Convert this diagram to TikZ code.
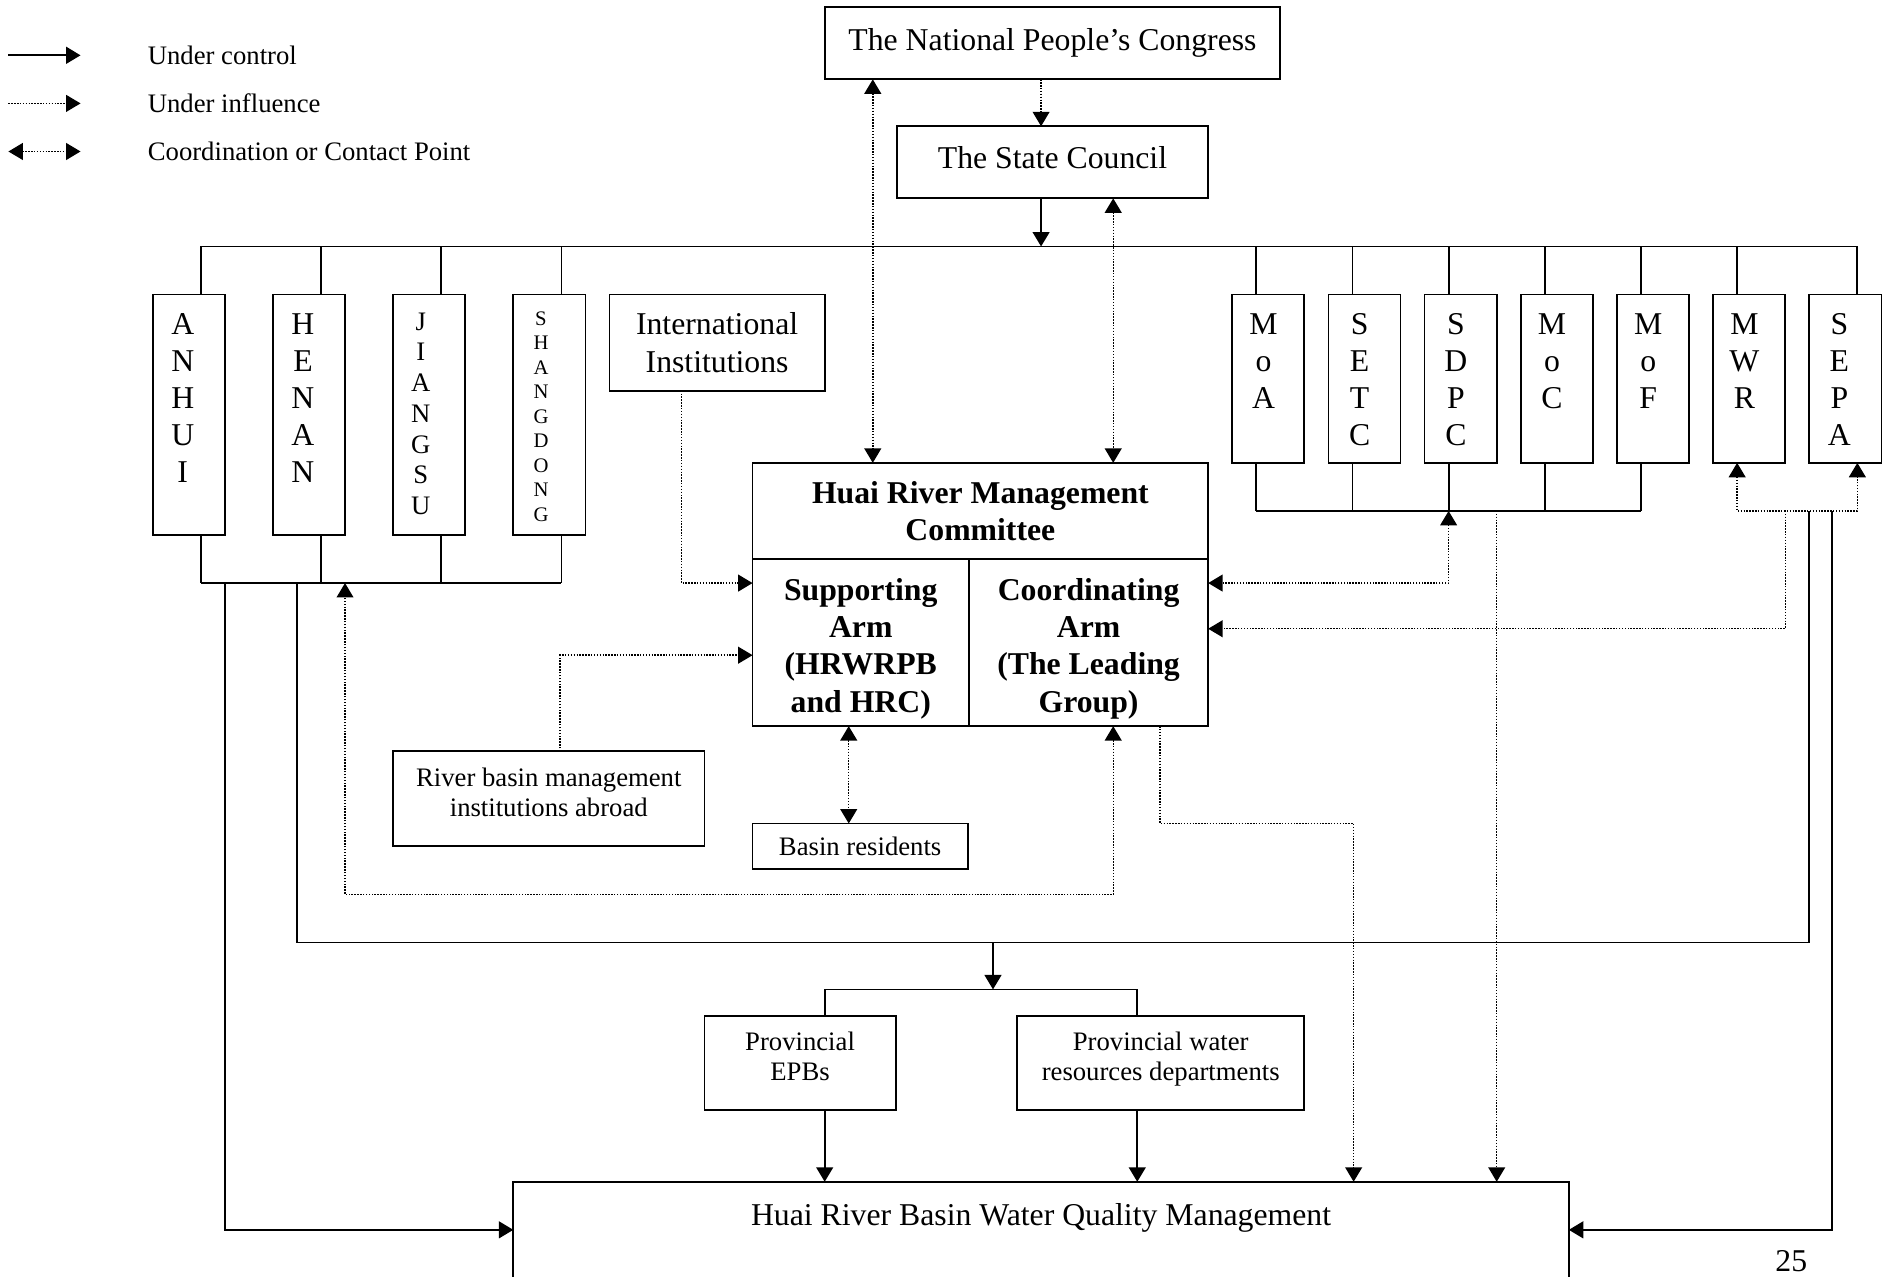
\documentclass[tikz,border=0pt]{standalone}
\usepackage{fontspec}
\setmainfont{Liberation Serif}
\usetikzlibrary{arrows.meta,calc}
\begin{document}
\begin{tikzpicture}[x=0.5pt,y=-0.5pt,
  every node/.style={inner sep=0pt, outer sep=0pt},
  box/.style={draw, line width=0.75pt, align=center},
  sz/.style 2 args={minimum width=#1*0.5pt, minimum height=#2*0.5pt},
  mainf/.style={font=\fontsize{13.2}{15.4}\selectfont},
  smallf/.style={font=\fontsize{11.1}{12.8}\selectfont},
  tinyf/.style={font=\fontsize{8.6}{10.2}\selectfont},
  boldf/.style={font=\fontsize{13.2}{15.5}\selectfont\bfseries},
  vtxt/.style={anchor=north, align=center},
  ctrl/.style={line width=0.75pt},
  infl/.style={line width=0.6pt, dash pattern=on 0.6pt off 0.6pt},
  tip/.style={-{Triangle[length=6pt,width=7pt]}},
  tips/.style={{Triangle[length=6pt,width=7pt]}-{Triangle[length=6pt,width=7pt]}},
]
\fill[white] (0,0) rectangle (1568,1062);
\useasboundingbox (0,0) rectangle (1568,1062);

% helper coordinates
\foreach \x in {866,726,926,167,267,367,467,1045,1125,1205,1285,1365,1445,1545,567,466,706,287,965,1126,1485,1245,187,247,1505,826,686,946,1524}
  \coordinate (X\x) at (\x,0);
\coordinate (BUS) at (0,205);
\coordinate (PBUS) at (0,485);
\coordinate (MBUS) at (0,425);
\coordinate (Y545) at (0,545);
\coordinate (Y744) at (0,744);
\coordinate (Y685) at (0,685);
\coordinate (Y523) at (0,523);
\coordinate (Y784) at (0,784);
\coordinate (Y823) at (0,823);
\coordinate (Y1023) at (0,1023);

% legend
\coordinate (L1a) at (7,46);  \coordinate (L1b) at (67,46);
\coordinate (L2a) at (7,86);  \coordinate (L2b) at (67,86);
\coordinate (L3a) at (7,126); \coordinate (L3b) at (67,126);
\draw[ctrl,tip] (L1a) -- (L1b);
\draw[infl,tip] (L2a) -- (L2b);
\draw[infl,tips] (L3a) -- (L3b);
\node[smallf,anchor=west] (lg1) at (123,46) {Under control};
\node[smallf,anchor=west] (lg2) at (123,86) {Under influence};
\node[smallf,anchor=west] (lg3) at (123,126) {Coordination or Contact Point};

% top boxes
\node[box,sz={379}{60},mainf] (npc) at (875.5,36) {The National People’s Congress};
\node[box,sz={259}{60},mainf,text depth=4pt] (sc) at (875.5,135) {The State Council};

% provinces
\node[box,sz={60}{200}] (anhui) at (157,345) {};
\node[box,sz={60}{200}] (henan) at (257,345) {};
\node[box,sz={60}{200}] (jiangsu) at (357,345) {};
\node[box,sz={60}{200}] (shandong) at (457,345) {};
\node[mainf,vtxt] (anhuiT) at ($(anhui.north)+(-5,16)$) {A\\N\\H\\U\\I};
\node[mainf,vtxt] (henanT) at ($(henan.north)+(-5,16)$) {H\\E\\N\\A\\N};
\node[smallf,vtxt] (jiangsuT) at ($(jiangsu.north)+(-7,15)$) {J\\I\\A\\N\\G\\S\\U};
\node[tinyf,vtxt] (shandongT) at ($(shandong.north)+(-7,14)$) {S\\H\\A\\N\\G\\D\\O\\N\\G};

% international institutions
\node[box,sz={179}{80},mainf] (intl) at (596.5,285) {International\\Institutions};

% ministries
\node[box,sz={60}{140}] (moa) at (1055,315) {};
\node[box,sz={60}{140}] (setc) at (1135,315) {};
\node[box,sz={60}{140}] (sdpc) at (1215,315) {};
\node[box,sz={60}{140}] (moc) at (1295,315) {};
\node[box,sz={60}{140}] (mof) at (1375,315) {};
\node[box,sz={60}{140}] (mwr) at (1455,315) {};
\node[box,sz={60}{140}] (sepa) at (1535,315) {};
\node[mainf,vtxt] (moaT) at ($(moa.north)+(-4,16)$) {M\\o\\A};
\node[mainf,vtxt] (setcT) at ($(setc.north)+(-4,16)$) {S\\E\\T\\C};
\node[mainf,vtxt] (sdpcT) at ($(sdpc.north)+(-4,16)$) {S\\D\\P\\C};
\node[mainf,vtxt] (mocT) at ($(moc.north)+(-4,16)$) {M\\o\\C};
\node[mainf,vtxt] (mofT) at ($(mof.north)+(-4,16)$) {M\\o\\F};
\node[mainf,vtxt] (mwrT) at ($(mwr.north)+(-4,16)$) {M\\W\\R};
\node[mainf,vtxt] (sepaT) at ($(sepa.north)+(-5,16)$) {S\\E\\P\\A};

% HRMC
\node[box,sz={379}{80},boldf] (hrmc) at (815.5,425) {Huai River Management\\Committee};
\node[box,sz={180}{139}] (sup) at (716,534.5) {};
\node[box,sz={199}{139}] (coord) at (905.5,534.5) {};
\node[boldf,align=center] (supT) at (716,539.5) {Supporting\\Arm\\(HRWRPB\\and HRC)};
\node[boldf,align=center] (coordT) at (905.5,539.5) {Coordinating\\Arm\\(The Leading\\Group)};

% lower boxes
\node[box,sz={259}{79},smallf,text depth=5.5pt] (abroad) at (456.5,664.5) {River basin management\\institutions abroad};
\node[box,sz={179}{38},smallf] (res) at (715.5,704) {Basin residents};
\node[box,sz={159}{78},smallf,text depth=5.5pt] (epb) at (665.5,884) {Provincial\\EPBs};
\node[box,sz={239}{78},smallf,text depth=5.5pt] (pwrd) at (965.5,884) {Provincial water\\resources departments};
\node[box,sz={878}{83}] (hrbwqm) at (866,1024.5) {};
\node[mainf] (hrbwqmT) at (866,1013) {Huai River Basin Water Quality Management};
\node[mainf] (pg) at (1490,1049) {25};

% connectors: top
\draw[infl,tip] (npc.south -| X866) -- (sc.north -| X866);
\draw[ctrl,tip] (sc.south -| X866) -- (X866 |- BUS);
\draw[ctrl] (X167 |- BUS) -- (X1545 |- BUS);
\draw[infl,tips] (npc.south -| X726) -- (hrmc.north -| X726);
\draw[infl,tips] (sc.south -| X926) -- (hrmc.north -| X926);

% stubs to provinces
\draw[ctrl] (anhui.north -| X167) -- (X167 |- BUS);
\draw[ctrl] (henan.north -| X267) -- (X267 |- BUS);
\draw[ctrl] (jiangsu.north -| X367) -- (X367 |- BUS);
\draw[ctrl] (shandong.north -| X467) -- (X467 |- BUS);
\draw[ctrl] (anhui.south -| X167) -- (X167 |- PBUS);
\draw[ctrl] (henan.south -| X267) -- (X267 |- PBUS);
\draw[ctrl] (jiangsu.south -| X367) -- (X367 |- PBUS);
\draw[ctrl] (shandong.south -| X467) -- (X467 |- PBUS);
\draw[ctrl] (X167 |- PBUS) -- (X467 |- PBUS);

% stubs to ministries
\draw[ctrl] (moa.north -| X1045) -- (X1045 |- BUS);
\draw[ctrl] (setc.north -| X1125) -- (X1125 |- BUS);
\draw[ctrl] (sdpc.north -| X1205) -- (X1205 |- BUS);
\draw[ctrl] (moc.north -| X1285) -- (X1285 |- BUS);
\draw[ctrl] (mof.north -| X1365) -- (X1365 |- BUS);
\draw[ctrl] (mwr.north -| X1445) -- (X1445 |- BUS);
\draw[ctrl] (sepa.north -| X1545) -- (X1545 |- BUS);
\draw[ctrl] (moa.south -| X1045) -- (X1045 |- MBUS);
\draw[ctrl] (setc.south -| X1125) -- (X1125 |- MBUS);
\draw[ctrl] (sdpc.south -| X1205) -- (X1205 |- MBUS);
\draw[ctrl] (moc.south -| X1285) -- (X1285 |- MBUS);
\draw[ctrl] (mof.south -| X1365) -- (X1365 |- MBUS);
\draw[ctrl] (X1045 |- MBUS) -- (X1365 |- MBUS);

% influence / coordination around HRMC
\draw[infl,tip] (intl.south -| X567) |- (sup.west |- PBUS);
\draw[infl,tip] (abroad.north -| X466) |- (sup.west |- Y545);
\draw[infl,tips] (sup.south -| X706) -- (res.north -| X706);
\draw[infl,tips] (coord.south -| X926) -- (X926 |- Y744) -| (X287 |- PBUS);
\draw[infl,tip] (coord.south -| X965) |- (X1126 |- Y685) -- (hrbwqm.north -| X1126);
\draw[infl,tips] (X1205 |- MBUS) |- (coord.east |- PBUS);
\draw[infl,tips] (mwr.south -| X1445) |- (X1485 |- MBUS) -| (sepa.south -| X1545);
\draw[infl,tip] (X1485 |- MBUS) |- (coord.east |- Y523);
\draw[infl,tip] (X1245 |- MBUS) -- (hrbwqm.north -| X1245);

% control lines to the bottom
\draw[ctrl,tip] (X187 |- PBUS) |- (hrbwqm.west |- Y1023);
\draw[ctrl] (X247 |- PBUS) |- (X1505 |- Y784) -- (X1505 |- MBUS);
\draw[ctrl,tip] (X826 |- Y784) -- (X826 |- Y823);
\draw[ctrl] (epb.north -| X686) |- (X946 |- Y823) -- (pwrd.north -| X946);
\draw[ctrl,tip] (epb.south -| X686) -- (hrbwqm.north -| X686);
\draw[ctrl,tip] (pwrd.south -| X946) -- (hrbwqm.north -| X946);
\draw[ctrl,tip] (X1524 |- MBUS) |- (hrbwqm.east |- Y1023);
\end{tikzpicture}
\end{document}
